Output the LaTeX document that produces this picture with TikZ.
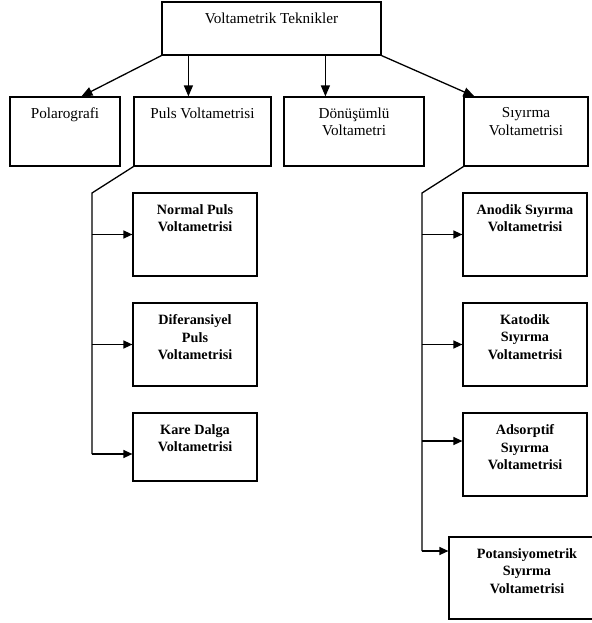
\documentclass[tikz,border=0pt]{standalone}
\usepackage{fontspec}
\setmainfont{Liberation Serif}
\usetikzlibrary{arrows.meta,calc}
\begin{document}
\begin{tikzpicture}[x=1pt,y=-1pt,
  box/.style={draw=black, line width=1.2pt, rectangle, inner sep=0pt, fill=white},
  lt/.style={anchor=north, inner sep=0pt, yshift=-11pt, align=center, font=\fontsize{15.2}{17.6}\selectfont},
  ls/.style={anchor=north, inner sep=0pt, yshift=-12pt, align=center, font=\fontsize{14.2}{17.5}\selectfont\bfseries},
  conn/.style={draw=black, line width=1.3pt},
  arr/.style={conn, -{Triangle[length=11pt,width=9pt]}},
  arrs/.style={conn, -{Triangle[length=9pt,width=8pt]}}]
\useasboundingbox (0,0) rectangle (591,623);
% top
\node[box, minimum width=219, minimum height=53, label={[lt]north:Voltametrik Teknikler}] (top) at (271.5,28.5) {};
% second row
\node[box, minimum width=110, minimum height=69, label={[lt]north:Polarografi}] (pol) at (65,131.5) {};
\node[box, minimum width=137, minimum height=69, label={[lt]north:Puls Voltametrisi}] (puls) at (202.5,131.5) {};
\node[box, minimum width=140, minimum height=69, label={[lt]north:Dönüşümlü\\Voltametri}] (don) at (354,131.5) {};
\node[box, minimum width=124, minimum height=69, label={[lt]north:Sıyırma\\Voltametrisi}] (siy) at (526,131.5) {};
% left column
\node[box, minimum width=124, minimum height=83, label={[ls]north:Normal Puls\\Voltametrisi}] (np) at (195,234.5) {};
\node[box, minimum width=124, minimum height=83, label={[ls]north:Diferansiyel\\Puls\\Voltametrisi}] (dp) at (195,344.5) {};
\node[box, minimum width=124, minimum height=68, label={[ls]north:Kare Dalga\\Voltametrisi}] (kd) at (195,447) {};
% right column
\node[box, minimum width=124, minimum height=83, label={[ls]north:Anodik Sıyırma\\Voltametrisi}] (an) at (525,234.5) {};
\node[box, minimum width=124, minimum height=83, label={[ls]north:Katodik\\Sıyırma\\Voltametrisi}] (ka) at (525,344.5) {};
\node[box, minimum width=124, minimum height=83, label={[ls]north:Adsorptif\\Sıyırma\\Voltametrisi}] (ad) at (525,454.5) {};
\node[box, minimum width=156, minimum height=82, label={[ls]north:Potansiyometrik\\Sıyırma\\Voltametrisi}] (po) at (527,578) {};
% top arrows
\draw[arr] (top.south west) -- ($(pol.north west)+(72,0)$);
\draw[arr] ($(top.south west)+(27,0)$) -- ($(puls.north west)+(55,0)$);
\draw[arr] ($(top.south west)+(164,0)$) -- ($(don.north west)+(42,0)$);
\draw[arr] (top.south east) -- ($(siy.north west)+(11,0)$);
% left branch
\coordinate (lt) at (92,193);
\coordinate (lbot) at (92,454);
\draw[conn] (puls.south west) -- (lt) -- (lbot);
\draw[arrs] (lt |- np.west) -- (np.west);
\draw[arrs] (lt |- dp.west) -- (dp.west);
\draw[arrs] (lbot) -- (kd.west |- lbot);
% right branch
\coordinate (rt) at (422,193);
\coordinate (ra) at (422,441);
\coordinate (rbot) at (422,551);
\draw[conn] (siy.south west) -- (rt) -- (rbot);
\draw[arrs] (rt |- an.west) -- (an.west);
\draw[arrs] (rt |- ka.west) -- (ka.west);
\draw[arrs] (ra) -- (ad.west |- ra);
\draw[arrs] (rbot) -- (po.west |- rbot);
\end{tikzpicture}
\end{document}
